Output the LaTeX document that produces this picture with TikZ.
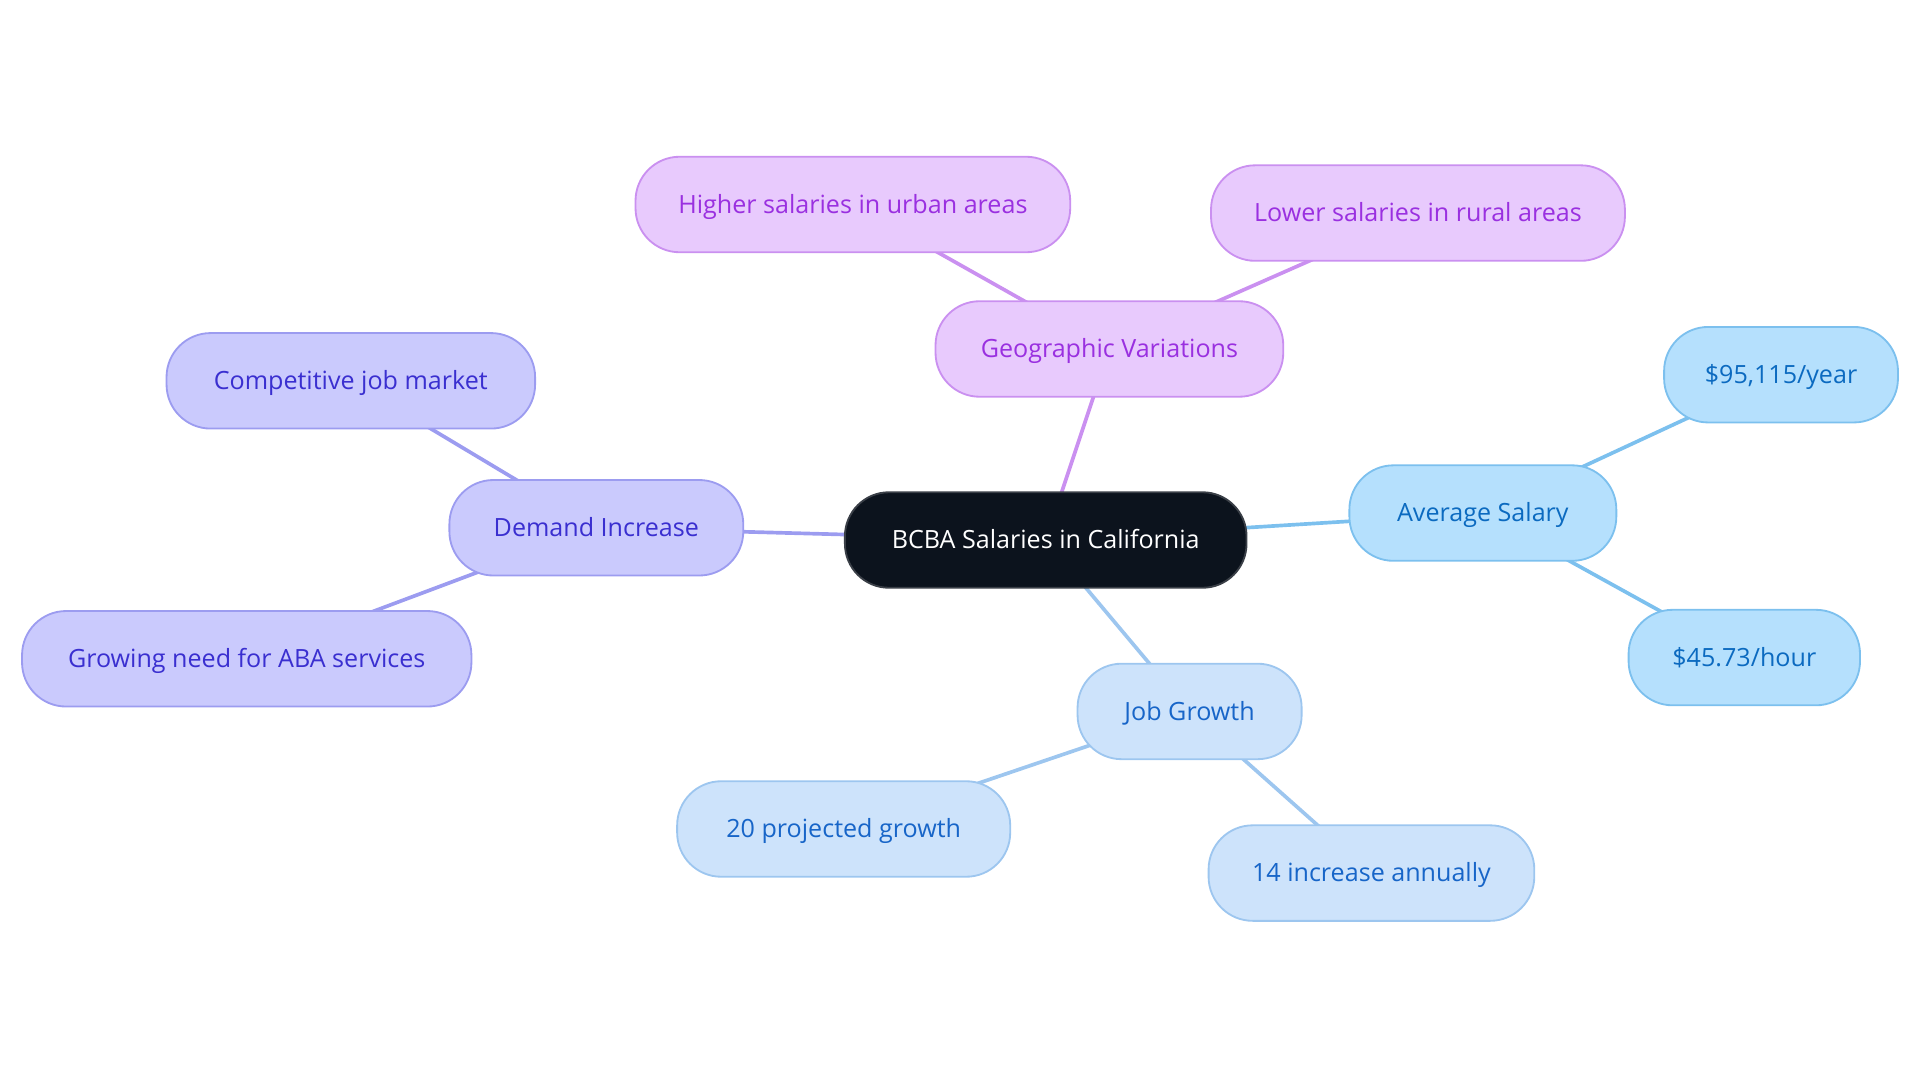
\documentclass[tikz,border=0pt]{standalone}
\usepackage{fontspec}
\setmainfont{Open Sans}
\usetikzlibrary{backgrounds}
\definecolor{rootfill}{HTML}{0C131D}
\definecolor{rootdraw}{HTML}{3A3F47}
\definecolor{geofill}{HTML}{E8CAFD}
\definecolor{geodraw}{HTML}{CA90F0}
\definecolor{geotext}{HTML}{9A30E0}
\definecolor{salfill}{HTML}{B5E0FD}
\definecolor{saldraw}{HTML}{7CC0EE}
\definecolor{saltext}{HTML}{0B6AC0}
\definecolor{jobfill}{HTML}{CDE3FB}
\definecolor{jobdraw}{HTML}{9DC6EF}
\definecolor{jobtext}{HTML}{1765C8}
\definecolor{demfill}{HTML}{CACAFD}
\definecolor{demdraw}{HTML}{9C9CF0}
\definecolor{demtext}{HTML}{3A2FD0}
\tikzset{
  mbox/.style={rectangle, rounded corners=36pt, minimum height=78pt, inner sep=0pt, text height=17pt, text depth=3pt, line width=1.5pt, font=\fontsize{20.5}{24}\selectfont},
  rootbox/.style={mbox, fill=rootfill, draw=rootdraw, text=white},
  geobox/.style={mbox, fill=geofill, draw=geodraw, text=geotext},
  salbox/.style={mbox, fill=salfill, draw=saldraw, text=saltext},
  jobbox/.style={mbox, fill=jobfill, draw=jobdraw, text=jobtext},
  dembox/.style={mbox, fill=demfill, draw=demdraw, text=demtext},
  link/.style={line width=3pt}
}
\begin{document}
\begin{tikzpicture}[x=1pt,y=-1pt]
\useasboundingbox (0,0) rectangle (1568,884);
\node[rootbox, minimum width=328pt] (root) at (854,441) {BCBA Salaries in California};
\node[geobox, minimum width=284pt] (geo) at (906,285) {Geographic Variations};
\node[geobox, minimum width=355pt] (urban) at (696.5,167) {Higher salaries in urban areas};
\node[geobox, minimum width=338pt] (rural) at (1158,174) {Lower salaries in rural areas};
\node[salbox, minimum width=218pt] (sal) at (1211,419) {Average Salary};
\node[salbox, minimum width=191pt] (year) at (1454.5,306) {\$95,115/year};
\node[salbox, minimum width=189pt] (hour) at (1424.5,537) {\$45.73/hour};
\node[jobbox, minimum width=183pt] (job) at (971.5,581) {Job Growth};
\node[jobbox, minimum width=272pt] (proj) at (689,677) {20 projected growth};
\node[jobbox, minimum width=266pt] (annual) at (1120,713) {14 increase annually};
\node[dembox, minimum width=240pt] (dem) at (487,431) {Demand Increase};
\node[dembox, minimum width=301pt] (comp) at (286.5,311) {Competitive job market};
\node[dembox, minimum width=367pt] (need) at (201.5,538) {Growing need for ABA services};
\begin{scope}[on background layer]
\draw[link, geodraw] (root.center) -- (geo.center);
\draw[link, geodraw] (geo.center) -- (urban.center);
\draw[link, geodraw] (geo.center) -- (rural.center);
\draw[link, saldraw] (root.center) -- (sal.center);
\draw[link, saldraw] (sal.center) -- (year.center);
\draw[link, saldraw] (sal.center) -- (hour.center);
\draw[link, jobdraw] (root.center) -- (job.center);
\draw[link, jobdraw] (job.center) -- (proj.center);
\draw[link, jobdraw] (job.center) -- (annual.center);
\draw[link, demdraw] (root.center) -- (dem.center);
\draw[link, demdraw] (dem.center) -- (comp.center);
\draw[link, demdraw] (dem.center) -- (need.center);
\end{scope}
\end{tikzpicture}
\end{document}
